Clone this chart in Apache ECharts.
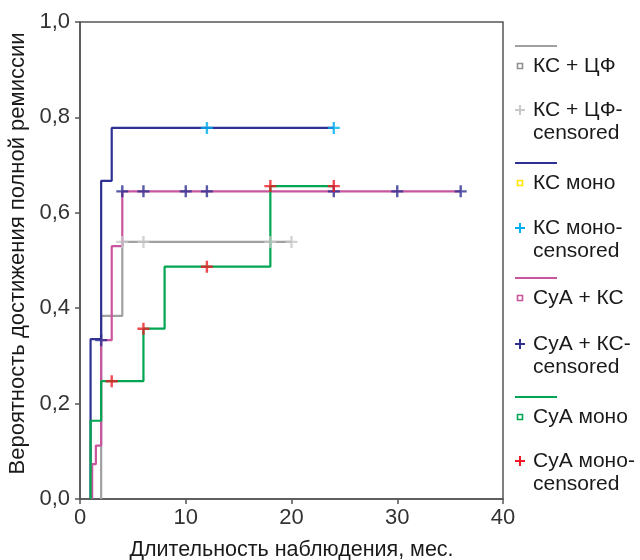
<!DOCTYPE html>
<html>
<head>
<meta charset="utf-8">
<script src="https://cdn.jsdelivr.net/npm/echarts@6/dist/echarts.min.js"></script>
<style>html,body{margin:0;padding:0;background:#fff}#c{width:640px;height:560px}</style>
</head>
<body>
<div id="c"></div>
<script>
// Kaplan-Meier step data: [time (months), probability]
const kcCf = [[2,0],[2,0.384],[4,0.539],[20,0.539]];
const kcCfCens = [[4,0.539],[6,0.539],[18,0.539],[20,0.539]];
const kcMono = [[1,0],[1,0.335],[2,0.667],[3,0.778],[24,0.778]];
const kcMonoCens = [[12,0.778],[24,0.778]];
const cyaKc = [[1.15,0],[1.15,0.073],[1.5,0.112],[2,0.333],[3,0.53],[4,0.645],[36,0.645]];
const cyaKcCens = [[2,0.333],[4,0.645],[6,0.645],[10,0.645],[12,0.645],[24,0.645],[30,0.645],[36,0.645]];
const cyaMono = [[1,0],[1,0.164],[2,0.247],[6,0.357],[8,0.487],[18,0.656],[24,0.656]];
const cyaMonoCens = [[3,0.247],[6,0.357],[12,0.487],[18,0.656],[24,0.656]];

const xTicks = [0,10,20,30,40];
const yTicks = [0,0.2,0.4,0.6,0.8,1.0];

const FONT = "'Liberation Sans', Arial, sans-serif";
const C = {
  gray:'#a0a0a0', grayCens:'#c8c8c8',
  navy:'#2e3192', yellow:'#ffe600', cyan:'#00aeef',
  pink:'#c9559e', green:'#00a651', red:'#ed1c24'
};
const PLUS = 'path://M4,0H6V4H10V6H6V10H4V6H0V4H4Z';

function line(name, data, color){
  return {name, type:'line', step:'end', data, showSymbol:false, symbol:'none',
    lineStyle:{color, width:2.2}, itemStyle:{color}, animation:false, z:2};
}
function cens(name, data, color){
  return {name, type:'scatter', data, symbol:PLUS, symbolSize:12,
    itemStyle:{color}, animation:false, z:3};
}

// legend (drawn as graphics)
const legend = [];
function txt(x, y, text){
  legend.push({type:'text', x, y, style:{text, font:'21px '+FONT, fill:'#1a1a1a', textVerticalAlign:'middle', verticalAlign:'middle'}});
}
function lgLine(y, color){
  legend.push({type:'line', shape:{x1:515,y1:y,x2:557,y2:y}, style:{stroke:color, lineWidth:2}});
}
function lgSquare(y, color, text){
  legend.push({type:'rect', shape:{x:517.5,y:y-2.5,width:5,height:5}, style:{fill:'#fff', stroke:color, lineWidth:1.6}});
  txt(533, y, text);
}
function lgPlus(y, color, t1, t2){
  legend.push({type:'rect', shape:{x:515,y:y-1,width:10,height:2}, style:{fill:color}});
  legend.push({type:'rect', shape:{x:519,y:y-5,width:2,height:10}, style:{fill:color}});
  txt(533, y, t1);
  txt(533, y+23, t2);
}
lgLine(46, C.gray);  lgSquare(66, '#909090', 'КС + ЦФ');  lgPlus(110, C.grayCens, 'КС + ЦФ-', 'censored');
lgLine(163, C.navy); lgSquare(183, C.yellow, 'КС моно'); lgPlus(228, C.cyan, 'КС моно-', 'censored');
lgLine(278, C.pink); lgSquare(298, C.pink, 'СуА + КС'); lgPlus(344, C.navy, 'СуА + КС-', 'censored');
lgLine(397, C.green); lgSquare(417, C.green, 'СуА моно'); lgPlus(461, C.red, 'СуА моно-', 'censored');

const chart = echarts.init(document.getElementById('c'));
chart.setOption({
  backgroundColor:'#fff',
  animation:false,
  textStyle:{fontFamily:FONT},
  grid:{left:80, right:137, top:22, bottom:61, show:true, borderColor:'#555', borderWidth:1.5,
    backgroundColor:'transparent', containLabel:false, outerBoundsMode:'none'},
  xAxis:{type:'value', min:xTicks[0], max:xTicks[xTicks.length-1], interval:10,
    name:'Длительность наблюдения, мес.', nameLocation:'middle', nameGap:40,
    nameTextStyle:{fontSize:21.5, color:'#1a1a1a', fontFamily:FONT},
    axisLine:{show:true, lineStyle:{color:'#555', width:1.5}},
    axisTick:{show:true, inside:false, length:5, lineStyle:{color:'#555', width:1.5}},
    axisLabel:{fontSize:22, color:'#333', margin:8, fontFamily:FONT},
    splitLine:{show:false}},
  yAxis:{type:'value', min:yTicks[0], max:yTicks[yTicks.length-1], interval:0.2,
    name:'Вероятность достижения полной ремиссии', nameLocation:'middle', nameGap:50, nameRotate:90,
    nameTextStyle:{fontSize:22, color:'#1a1a1a', fontFamily:FONT, padding:[0,0,0,14]},
    axisLine:{show:true, lineStyle:{color:'#555', width:1.5}},
    axisTick:{show:true, inside:false, length:5, lineStyle:{color:'#555', width:1.5}},
    axisLabel:{fontSize:22, color:'#333', margin:10, fontFamily:FONT,
      formatter:v=>v.toFixed(1).replace('.',',')},
    splitLine:{show:false}},
  series:[
    line('КС + ЦФ', kcCf, C.gray),
    line('КС моно', kcMono, C.navy),
    line('СуА + КС', cyaKc, C.pink),
    line('СуА моно', cyaMono, C.green),
    cens('КС + ЦФ-censored', kcCfCens, C.grayCens),
    cens('КС моно-censored', kcMonoCens, C.cyan),
    cens('СуА + КС-censored', cyaKcCens, C.navy),
    cens('СуА моно-censored', cyaMonoCens, C.red)
  ],
  graphic:legend
});
</script>
</body>
</html>
